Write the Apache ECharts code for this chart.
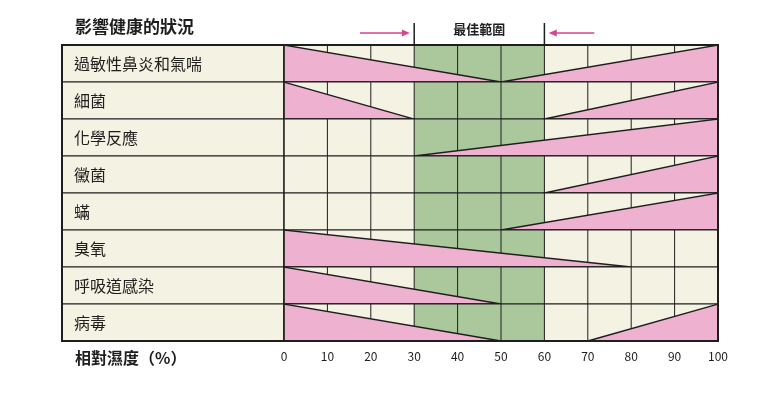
<!DOCTYPE html>
<html>
<head>
<meta charset="UTF-8">
<script src="https://cdn.jsdelivr.net/npm/echarts@6/dist/echarts.min.js"></script>
<style>body{margin:0;background:#fff}#c{width:762px;height:410px}</style>
</head>
<body>
<div id="c"></div>
<script>
var conditions = ['過敏性鼻炎和氣喘','細菌','化學反應','黴菌','蟎','臭氧','呼吸道感染','病毒'];
// left triangle: from 0% down to this humidity (null = none)
var leftEnd = [50, 30, null, null, null, 80, 50, 50];
// right triangle: starts at this humidity up to 100% (null = none)
var rightStart = [50, 60, 30, 60, 50, null, null, 70];
var optimal = [30, 60];
var ticks = [0,10,20,30,40,50,60,70,80,90,100];

var CREAM = '#f4f2e3', GREEN = '#abc89d', PINK = '#eeb2d0', INK = '#1e1e1e';
var LABEL_X = 62;
var font = '"Noto Sans CJK TC", sans-serif';

var chart = echarts.init(document.getElementById('c'));

function renderItem(params, api) {
  var i = api.value(0);
  var ch = [];
  if (i < conditions.length) {
    var a = api.coord([0, i]), b = api.coord([100, i + 1]);
    var top = a[1], bot = b[1], x0 = a[0], x1 = b[0];
    var X = function (v) { return api.coord([v, i])[0]; };
    ch.push({type:'rect', shape:{x:LABEL_X, y:top, width:x0-LABEL_X, height:bot-top}, style:{fill:CREAM, stroke:INK, lineWidth:1}});
    ch.push({type:'text', style:{x:LABEL_X+12, y:(top+bot)/2, text:conditions[i], font:'16px '+font, fill:INK, verticalAlign:'middle'}});
    ch.push({type:'rect', shape:{x:x0, y:top, width:x1-x0, height:bot-top}, style:{fill:CREAM}});
    ch.push({type:'rect', shape:{x:X(optimal[0]), y:top, width:X(optimal[1])-X(optimal[0]), height:bot-top}, style:{fill:GREEN}});
    ticks.forEach(function (t) {
      ch.push({type:'line', shape:{x1:X(t), y1:top, x2:X(t), y2:bot}, style:{stroke:INK, lineWidth:1}});
    });
    if (leftEnd[i] != null) {
      ch.push({type:'polygon', shape:{points:[[x0,top],[x0,bot],[X(leftEnd[i]),bot]]}, style:{fill:PINK, stroke:INK, lineWidth:1.3}});
    }
    if (rightStart[i] != null) {
      ch.push({type:'polygon', shape:{points:[[X(rightStart[i]),bot],[x1,top],[x1,bot]]}, style:{fill:PINK, stroke:INK, lineWidth:1.3}});
    }
    ch.push({type:'rect', shape:{x:x0, y:top, width:x1-x0, height:bot-top}, style:{fill:'none', stroke:INK, lineWidth:1}});
  } else {
    // header + outer frame
    var p0 = api.coord([0, 0]), p1 = api.coord([100, conditions.length]);
    var ox1 = api.coord([optimal[0], 0])[0], ox2 = api.coord([optimal[1], 0])[0];
    ch.push({type:'rect', shape:{x:LABEL_X, y:p0[1], width:p1[0]-LABEL_X, height:p1[1]-p0[1]}, style:{fill:'none', stroke:INK, lineWidth:2}});
    ch.push({type:'text', style:{x:75, y:p0[1]-18, text:'影響健康的狀況', font:'bold 17px '+font, fill:INK, verticalAlign:'middle'}});
    ch.push({type:'text', style:{x:75, y:p1[1]+17, text:'相對濕度（%）', font:'bold 16px '+font, fill:INK, verticalAlign:'middle'}});
    ch.push({type:'text', style:{x:(ox1+ox2)/2, y:p0[1]-16, text:'最佳範圍', font:'bold 13px '+font, fill:INK, align:'center', verticalAlign:'middle'}});
    [ox1, ox2].forEach(function (x) {
      ch.push({type:'line', shape:{x1:x, y1:p0[1]-22, x2:x, y2:p0[1]}, style:{stroke:INK, lineWidth:1.5}});
    });
    var ay = p0[1] - 12;
    var la = api.coord([17.5, 0])[0], lb = api.coord([29, 0])[0];
    var ra = api.coord([71.5, 0])[0], rb = api.coord([61, 0])[0];
    ch.push({type:'line', shape:{x1:la, y1:ay, x2:lb-6, y2:ay}, style:{stroke:'#d6458f', lineWidth:1.5}});
    ch.push({type:'polygon', shape:{points:[[lb,ay],[lb-8,ay-3.5],[lb-8,ay+3.5]]}, style:{fill:'#d6458f'}});
    ch.push({type:'line', shape:{x1:ra, y1:ay, x2:rb+6, y2:ay}, style:{stroke:'#d6458f', lineWidth:1.5}});
    ch.push({type:'polygon', shape:{points:[[rb,ay],[rb+8,ay-3.5],[rb+8,ay+3.5]]}, style:{fill:'#d6458f'}});
  }
  return {type:'group', children:ch};
}

var data = conditions.map(function (c, i) { return [i]; });
data.push([conditions.length]);

chart.setOption({
  animation: false,
  grid: {left: 284, right: 44, top: 45, bottom: 69},
  xAxis: {
    type: 'value', min: 0, max: 100, interval: 10,
    axisLine: {show: false}, axisTick: {show: false}, splitLine: {show: false},
    axisLabel: {fontSize: 12, color: INK, margin: 9, fontFamily: font}
  },
  yAxis: {type: 'value', min: 0, max: conditions.length, inverse: true, show: false},
  series: [{type: 'custom', renderItem: renderItem, data: data, clip: false, encode: {x: -1, y: 0}}]
});
</script>
</body>
</html>
